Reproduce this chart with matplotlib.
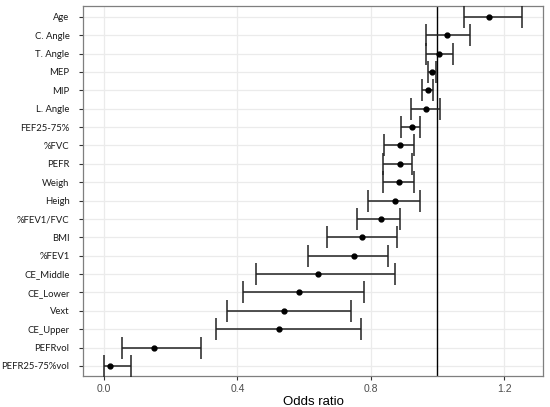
import numpy as np
import matplotlib.pyplot as plt

# variables, top to bottom as they appear in the chart
labels = ["Age", "C. Angle", "T. Angle", "MEP", "MIP", "L. Angle", "FEF25-75%",
          "%FVC", "PEFR", "Weigh", "Heigh", "%FEV1/FVC", "BMI", "%FEV1",
          "CE_Middle", "CE_Lower", "Vext", "CE_Upper", "PEFRvol", "PEFR25-75%vol"]
odds = [1.156, 1.028, 1.005, 0.984, 0.972, 0.965, 0.924,
        0.889, 0.888, 0.886, 0.873, 0.831, 0.775, 0.750,
        0.642, 0.584, 0.540, 0.525, 0.149, 0.017]
ci_low = [1.080, 0.965, 0.967, 0.972, 0.955, 0.920, 0.890,
          0.840, 0.838, 0.838, 0.793, 0.759, 0.670, 0.611,
          0.456, 0.418, 0.369, 0.336, 0.053, 0.000]
ci_high = [1.255, 1.098, 1.047, 0.997, 0.987, 1.007, 0.949,
           0.929, 0.924, 0.931, 0.947, 0.887, 0.880, 0.852,
           0.874, 0.780, 0.741, 0.770, 0.290, 0.081]
xticks = [0.0, 0.4, 0.8, 1.2]

odds = np.array(odds)
ci_low = np.array(ci_low)
ci_high = np.array(ci_high)
ypos = np.arange(len(labels))[::-1]

fig = plt.figure(figsize=(5.5, 4.07), dpi=100)
ax = fig.add_axes([0.1515, 0.076, 0.8365, 0.909])

ax.errorbar(odds, ypos, xerr=[odds - ci_low, ci_high - odds], fmt='o',
            color='black', ecolor='#222222', markersize=3.5, elinewidth=1.1,
            capsize=8, capthick=1.1, zorder=3)
ax.axvline(1.0, color='black', linewidth=1.0, zorder=2)

ax.set_xlim(-0.062, 1.318)
ax.set_ylim(-0.55, len(labels) - 1 + 0.58)
ax.set_xticks(xticks)
ax.set_xticklabels([f"{t:.1f}" for t in xticks], fontsize=7.5, color='#4d4d4d',
                   family='Liberation Sans')
ax.set_yticks(ypos)
ax.set_yticklabels(labels, fontsize=6.8, color='#1a1a1a', family='Lato')
ax.tick_params(axis='x', length=3, width=0.8, color='#333333', pad=3)
ax.tick_params(axis='y', length=3, width=0.8, color='#333333', pad=7)

ax.grid(True, color='#ebebeb', linewidth=0.9, zorder=0)
ax.set_axisbelow(True)
for s in ax.spines.values():
    s.set_color('#7f7f7f')
    s.set_linewidth(0.9)

ax.set_xlabel("Odds ratio", fontsize=9.5, family='Liberation Sans', labelpad=1)

fig.savefig("out.png", dpi=100)
